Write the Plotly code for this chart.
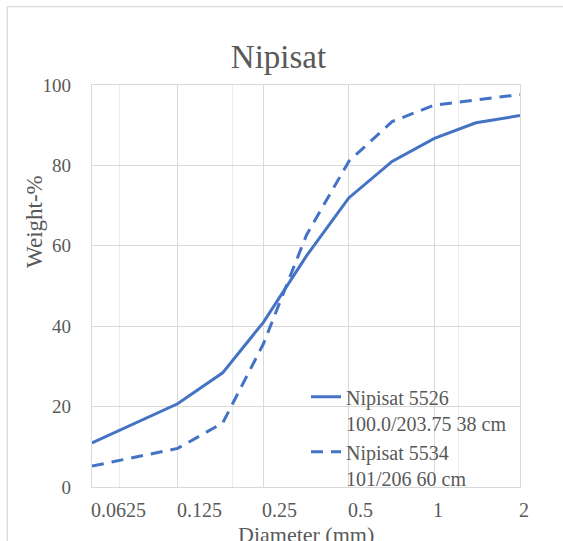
import numpy as np
import plotly.graph_objects as go

# ---- data ----
diameter_mm = [0.0625, 0.125, 0.18, 0.25, 0.355, 0.5, 0.71, 1, 1.4, 2]
nipisat_5526 = [11.0, 20.7, 28.4, 40.9, 57.5, 71.9, 81.0, 86.7, 90.6, 92.4]
nipisat_5534 = [5.2, 9.6, 15.9, 35.5, 62.7, 81.0, 90.9, 95.0, 96.3, 97.6]
name_5526 = "Nipisat 5526<br>100.0/203.75 38 cm"
name_5534 = "Nipisat 5534<br>101/206 60 cm"
x_tick_vals = [0.0625, 0.125, 0.25, 0.5, 1, 2]
x_tick_text = ["0.0625", "0.125", "0.25", "0.5", "1", "2"]
x_minor_grid = [0.078, 0.195, 1.22]
y_tick_vals = [0, 20, 40, 60, 80, 100]

FONT = "Liberation Serif"
GRAY = "#595959"
BLUE = "#4472C4"
GRID = "#d9d9d9"

fig = go.Figure()
fig.add_trace(go.Scatter(x=diameter_mm, y=nipisat_5526, mode="lines", name=name_5526,
                         line=dict(color=BLUE, width=3)))
fig.add_trace(go.Scatter(x=diameter_mm, y=nipisat_5534, mode="lines", name=name_5534,
                         line=dict(color=BLUE, width=3, dash="12px,8px")))

annotations = []
for v, t in zip(x_tick_vals, x_tick_text):
    annotations.append(dict(x=np.log10(v), y=-0.025, xref="x", yref="paper", text=t,
                            showarrow=False, xanchor="left", yanchor="top", xshift=-3,
                            font=dict(family=FONT, size=20, color=GRAY)))
annotations.append(dict(x=-0.135, y=0.66, xref="paper", yref="paper", text="Weight-%",
                        textangle=-90, showarrow=False, xanchor="center", yanchor="middle",
                        font=dict(family=FONT, size=23, color=GRAY)))
annotations.append(dict(x=0.5, y=-0.082, xref="paper", yref="paper", text="Diameter (mm)",
                        showarrow=False, xanchor="center", yanchor="top",
                        font=dict(family=FONT, size=22, color=GRAY)))

fig.update_layout(
    width=563, height=541,
    margin=dict(l=92, r=43, t=85, b=54),
    paper_bgcolor="white", plot_bgcolor="white",
    title=dict(text="Nipisat", x=278.5 / 563, xref="container", xanchor="center",
               y=1 - 56 / 541, yref="container", yanchor="middle",
               font=dict(family=FONT, size=33, color=GRAY)),
    xaxis=dict(type="log", range=[np.log10(0.0625), np.log10(2)],
               tickvals=x_tick_vals, showticklabels=False, ticks="",
               showgrid=True, gridcolor=GRID, gridwidth=1.3,
               minor=dict(tickvals=x_minor_grid, showgrid=True, gridcolor="#ebebeb",
                          gridwidth=1.3, ticks=""),
               showline=True, linecolor=GRID, linewidth=1.3, mirror=True, zeroline=False),
    yaxis=dict(range=[0, 100], tickvals=y_tick_vals, ticks="",
               showgrid=True, gridcolor=GRID, gridwidth=1.3,
               showline=True, linecolor=GRID, linewidth=1.3, mirror=True, zeroline=False,
               tickfont=dict(family=FONT, size=19, color=GRAY), ticklabelstandoff=16),
    legend=dict(x=0.5, y=0.273, xref="paper", yref="paper", xanchor="left", yanchor="top",
                bgcolor="rgba(0,0,0,0)", font=dict(family=FONT, size=20, color=GRAY),
                tracegroupgap=0, valign="top"),
    showlegend=True,
    annotations=annotations,
    shapes=[
        dict(type="line", xref="paper", yref="paper", x0=-0.198, x1=1.4,
             y0=1.195, y1=1.195, line=dict(color=GRID, width=1.3), layer="below"),
        dict(type="line", xref="paper", yref="paper", x0=-0.198, x1=-0.198,
             y0=-0.4, y1=1.195, line=dict(color=GRID, width=1.3), layer="below"),
    ],
)

fig.write_html("out.html")
